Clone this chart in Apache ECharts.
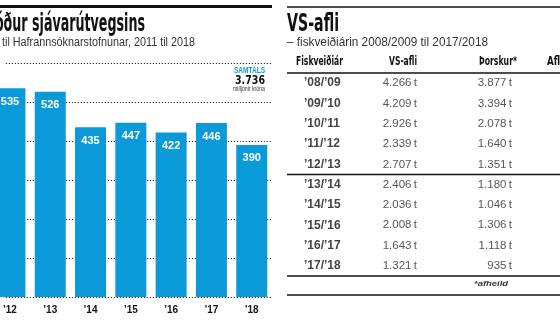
<!DOCTYPE html>
<html><head><meta charset="utf-8">
<script src="https://cdn.jsdelivr.net/npm/echarts@6/dist/echarts.min.js"></script>
<style>html,body{margin:0;padding:0;background:#fff}#c{width:560px;height:322px}</style>
</head><body><div id="c"></div>
<script>
// ---- data: bar chart (left panel) ----
const barYears = [2011, 2012, 2013, 2014, 2015, 2016, 2017, 2018];
const barValues = [535, 535, 526, 435, 447, 422, 446, 390];
const barTickYears = [2012, 2013, 2014, 2015, 2016, 2017, 2018];
const barYMax = 600;
const barYStep = 100;

// ---- data: table (right panel) ----
const seasons = ["’08/’09", "’09/’10", "’10/’11", "’11/’12", "’12/’13", "’13/’14", "’14/’15", "’15/’16", "’16/’17", "’17/’18"];
const vsAfli = [4266, 4209, 2926, 2339, 2707, 2406, 2036, 2008, 1643, 1321];
const thorskur = [3877, 3394, 2078, 1640, 1351, 1180, 1046, 1306, 1118, 935];
const tableHeaders = ["Fiskveiðiár", "VS-afli", "Þorskur*", "Afli"];

// ---- texts ----
const leftTitle = "Verkefnasjóður sjávarútvegsins";
const leftSub = "til Hafrannsóknarstofnunar, 2011 til 2018";
const rightTitle = "VS-afli";
const rightSub = "– fiskveiðiárin 2008/2009 til 2017/2018";
const totalLabel = "SAMTALS";
const totalUnit = "milljónir króna";
const footnote = "*afheild";

const HEAD = "'DejaVu Sans Condensed','DejaVu Sans',sans-serif";
const BODY = "'Liberation Sans',Arial,sans-serif";
const BLUE = "#0a9ad9";
const INK = "#111";

function fmt(n) { return String(n).replace(/\B(?=(\d{3})+(?!\d))/g, "."); }
const total = barValues.reduce((a, b) => a + b, 0);

const mctx = document.createElement('canvas').getContext('2d');
function measure(text, font) { mctx.font = font; return mctx.measureText(text).width; }

// table layout
const T_LEFT = 287, T_TOP = 73, T_W = 273, ROW_H = 20.3, T_H = ROW_H * seasons.length;
const COL_YEAR = 17, COL_VS = 130, COL_TH = 225;

// text with horizontal condensing so that `ref` text spans `targetW` px
function fitText(x, y, text, font, fill, align, targetW, ref) {
  const w = measure(ref || text, font);
  return { type: 'text', x: x, y: y, scaleX: targetW ? targetW / w : 1, silent: true,
    style: { text: text, font: font, fill: fill, align: align || 'left', verticalAlign: 'middle' } };
}
function hline(x1, x2, y, w) {
  return { type: 'line', silent: true, shape: { x1: x1, y1: y, x2: x2, y2: y }, style: { stroke: INK, lineWidth: w || 1.3 } };
}

// bar x-scale: year -> px, band 41.18 px per year, '12 centred at x=4
const X_MIN = 2012 - 4.2 / 41.18, X_MAX = X_MIN + 272 / 41.18;

const chart = echarts.init(document.getElementById('c'), null, { renderer: 'canvas' });
chart.setOption({
  animation: false,
  backgroundColor: '#fff',
  grid: [
    { left: 0, top: 63, width: 272, height: 234 },
    { left: T_LEFT, top: T_TOP, width: T_W, height: T_H }
  ],
  xAxis: [
    { type: 'value', gridIndex: 0, min: X_MIN, max: X_MAX,
      axisLine: { show: false }, axisTick: { show: false }, splitLine: { show: false },
      axisLabel: { customValues: barTickYears, margin: 8, color: INK, fontFamily: BODY, fontWeight: 'bold', fontSize: 10,
        formatter: v => "’" + String(v).slice(2) } },
    { type: 'value', gridIndex: 1, min: 0, max: T_W, show: false }
  ],
  yAxis: [
    { type: 'value', gridIndex: 0, min: 0, max: barYMax, interval: barYStep,
      axisLabel: { show: false }, axisLine: { show: false }, axisTick: { show: false },
      splitLine: { show: true, lineStyle: { color: '#000', width: 1, type: [1, 2] } } },
    { type: 'category', gridIndex: 1, data: seasons, inverse: true, show: false }
  ],
  series: [
    { type: 'bar', xAxisIndex: 0, yAxisIndex: 0, barWidth: 31, silent: true,
      data: barYears.map((y, i) => [y, barValues[i]]),
      itemStyle: { color: BLUE },
      label: { show: true, position: 'insideTop', distance: 8, color: '#fff',
        fontFamily: BODY, fontWeight: 'bold', fontSize: 11,
        formatter: p => String(barValues[p.dataIndex]) } },
    { type: 'scatter', xAxisIndex: 1, yAxisIndex: 1, symbolSize: 0, silent: true,
      data: seasons.map((s, i) => [COL_YEAR, i]),
      label: { show: true, position: 'right', distance: 0, color: INK,
        fontFamily: BODY, fontWeight: 'bold', fontSize: 12,
        formatter: p => seasons[p.dataIndex] } },
    { type: 'scatter', xAxisIndex: 1, yAxisIndex: 1, symbolSize: 0, silent: true,
      data: vsAfli.map((v, i) => [COL_VS, i]),
      label: { show: true, position: 'left', distance: 0, color: '#2a2a2a',
        fontFamily: BODY, fontSize: 11.5,
        formatter: p => fmt(vsAfli[p.dataIndex]) + '\u2009t' } },
    { type: 'scatter', xAxisIndex: 1, yAxisIndex: 1, symbolSize: 0, silent: true,
      data: thorskur.map((v, i) => [COL_TH, i]),
      label: { show: true, position: 'left', distance: 0, color: '#2a2a2a',
        fontFamily: BODY, fontSize: 11.5,
        formatter: p => fmt(thorskur[p.dataIndex]) + '\u2009t' } }
  ],
  graphic: [
    // left panel
    { type: 'rect', silent: true, shape: { x: 0, y: 5, width: 272, height: 3 }, style: { fill: INK } },
    fitText(145, 24, leftTitle, "bold 25px " + HEAD, INK, 'right', 113, "sjávarútvegsins"),
    fitText(2, 43, leftSub, "12.5px " + BODY, '#333', 'left', 193),
    fitText(265, 70.5, totalLabel, "bold 9px " + BODY, BLUE, 'right', 31),
    fitText(265, 81.5, fmt(total), "bold 11.5px 'DejaVu Sans',sans-serif", INK, 'right', 30),
    fitText(265, 89.5, totalUnit, "6.5px " + BODY, '#333', 'right', 32),
    // right panel
    hline(T_LEFT, 560, 7, 1.3),
    fitText(T_LEFT, 24, rightTitle, "bold 25px " + HEAD, INK, 'left', 52),
    fitText(T_LEFT, 43, rightSub, "12.5px " + BODY, '#333', 'left', 201),
    fitText(296, 62, tableHeaders[0], "bold 12px " + HEAD, INK, 'left', 47),
    fitText(417, 62, tableHeaders[1], "bold 12px " + HEAD, INK, 'right', 28),
    fitText(517, 62, tableHeaders[2], "bold 12px " + HEAD, INK, 'right', 38),
    fitText(547, 62, tableHeaders[3], "bold 12px " + HEAD, INK, 'left', 16),
    hline(T_LEFT, 560, T_TOP, 1.3),
    hline(T_LEFT, 560, T_TOP + ROW_H * 5, 1.3),
    hline(T_LEFT, 560, T_TOP + T_H, 1.3),
    fitText(508, 284, footnote, "italic bold 8px " + BODY, '#333', 'right', 34),
    hline(T_LEFT, 560, 295, 1.3)
  ]
});
</script></body></html>
